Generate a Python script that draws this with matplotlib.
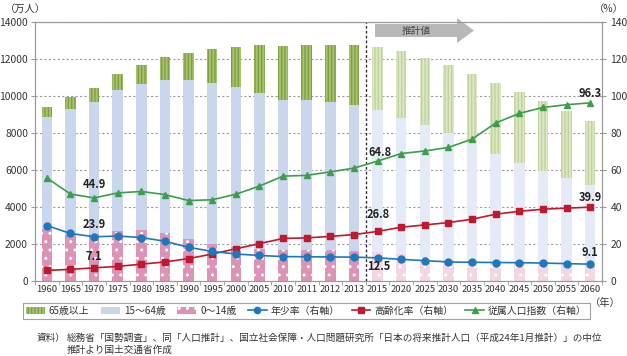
import numpy as np
import matplotlib.pyplot as plt
from matplotlib.patches import Polygon, Patch
from matplotlib.lines import Line2D

plt.rcParams["font.family"] = ["Noto Sans CJK JP", "DejaVu Sans"]
plt.rcParams["hatch.linewidth"] = 1.0

############################
# Data (万人, %)
############################

years = ["1960", "1965", "1970", "1975", "1980", "1985", "1990", "1995", "2000",
         "2005", "2010", "2011", "2012", "2013", "2015", "2020", "2025", "2030",
         "2035", "2040", "2045", "2050", "2055", "2060"]

pop_0_14 = [2807, 2553, 2515, 2722, 2751, 2603, 2249, 2001, 1847, 1752, 1680,
            1671, 1655, 1639, 1583, 1457, 1324, 1204, 1129, 1073, 1012, 939, 861, 791]
pop_15_64 = [6047, 6744, 7157, 7581, 7883, 8251, 8590, 8716, 8622, 8409, 8103,
             8134, 8018, 7901, 7682, 7341, 7085, 6773, 6343, 5787, 5353, 5001, 4706, 4418]
pop_65 = [535, 624, 739, 887, 1065, 1247, 1489, 1826, 2204, 2576, 2925,
          2975, 3079, 3190, 3395, 3612, 3657, 3685, 3741, 3868, 3856, 3768, 3626, 3464]

youth_rate = [30.0, 25.7, 23.9, 24.3, 23.5, 21.5, 18.2, 16.0, 14.6, 13.8, 13.2,
              13.1, 13.0, 12.9, 12.5, 11.7, 11.0, 10.3, 10.1, 10.0, 9.9, 9.7, 9.4, 9.1]
aging_rate = [5.7, 6.3, 7.1, 7.9, 9.1, 10.3, 12.1, 14.6, 17.4, 20.2, 23.0,
              23.3, 24.1, 25.1, 26.8, 29.1, 30.3, 31.6, 33.4, 36.1, 37.7, 38.8, 39.4, 39.9]
dependency = [55.7, 47.0, 44.9, 47.6, 48.4, 46.7, 43.5, 43.9, 46.9, 51.3, 56.7,
              57.1, 59.0, 61.0, 64.8, 68.9, 70.3, 72.2, 76.7, 85.4, 90.6, 93.8, 95.3, 96.3]

n_actual = 14  # 1960-2013 are actual, 2015- are projections

############################
# Colors
############################

GREEN_BAR = "#A6C46C"
GREEN_STRIPE = "#7E9E45"
GREEN_BAR_P = "#DCE7C4"
GREEN_STRIPE_P = "#BFD39A"
BLUE_BAR = "#C9D6EE"
BLUE_BAR_P = "#E4EAF6"
PINK_BAR = "#DC93B6"
PINK_BAR_P = "#F4D5E3"
BLUE_LINE = "#1E78BE"
RED_LINE = "#C0182C"
GREEN_LINE = "#3C9E4A"
GRID = "#9A9A9A"
TEXT = "#333333"

############################
# Figure
############################

fig = plt.figure(figsize=(6.27, 3.56), dpi=100)
ax = fig.add_axes([35 / 627, 1 - 281 / 356, 567 / 627, 259 / 356])
ax2 = ax.twinx()

x = np.arange(len(years))
w = 0.44
act = x < n_actual
b0 = np.array(pop_0_14)
b1 = np.array(pop_15_64)
b2 = np.array(pop_65)

for mask, c0, c1, c2, s2 in [(act, PINK_BAR, BLUE_BAR, GREEN_BAR, GREEN_STRIPE),
                             (~act, PINK_BAR_P, BLUE_BAR_P, GREEN_BAR_P, GREEN_STRIPE_P)]:
    ax.bar(x[mask], b0[mask], w, color=c0, edgecolor="white", linewidth=0, hatch="..")
    ax.bar(x[mask], b1[mask], w, bottom=b0[mask], color=c1, linewidth=0)
    ax.bar(x[mask], b2[mask], w, bottom=(b0 + b1)[mask], color=c2,
           edgecolor=s2, linewidth=0, hatch="|||||")

ax.set_ylim(0, 14000)
ax.set_xlim(-0.5, len(years) - 0.5)
ax.set_yticks(range(0, 14001, 2000))
ax.set_xticks(x)
ax.set_xticklabels(years)
ax.set_xticks(np.arange(-0.5, len(years), 1), minor=True)
ax.tick_params(axis="x", which="major", length=0, labelsize=6.8, colors=TEXT, pad=3)
ax.tick_params(axis="x", which="minor", length=3, color=GRID)
ax.tick_params(axis="y", length=3, labelsize=7.4, colors=TEXT, pad=2, color=GRID)
ax.yaxis.grid(True, color=GRID, linestyle=(0, (2, 2)), linewidth=0.8)
ax.set_axisbelow(True)

for sp in list(ax.spines.values()) + list(ax2.spines.values()):
    sp.set_color(GRID)
    sp.set_linewidth(0.8)

# lines on right axis
ax2.plot(x, dependency, color=GREEN_LINE, lw=1.2, marker="^", ms=5, zorder=3)
ax2.plot(x, aging_rate, color=RED_LINE, lw=1.2, marker="s", ms=4.2, zorder=3)
ax2.plot(x, youth_rate, color=BLUE_LINE, lw=1.2, marker="o", ms=5, zorder=3)
ax2.set_ylim(0, 140)
ax2.set_yticks(range(0, 141, 20))
ax2.tick_params(axis="y", length=3, labelsize=7.4, colors=TEXT, pad=3, color=GRID)

# projection divider
ax.axvline(n_actual - 0.5, color="#333333", lw=1.0, linestyle=(0, (2, 1.5)), zorder=4)

# value labels
def lab(series, i, dx, dy):
    ax2.annotate(f"{series[i]:.1f}", (x[i], series[i]), xytext=(dx, dy),
                 textcoords="offset points", ha="center", va="center",
                 fontsize=8, fontweight="bold", color="#222222", zorder=5)

lab(dependency, 2, 0, 9.5)
lab(youth_rate, 2, 0, 8.5)
lab(aging_rate, 2, 0, 8.5)
lab(dependency, 14, 1.5, 6)
lab(aging_rate, 14, 0.5, 12)
lab(youth_rate, 14, 0.5, -6.5)
lab(dependency, 23, 0, 6.5)
lab(aging_rate, 23, 0, 7)
lab(youth_rate, 23, 0, 8.5)

# 推計値 arrow
def ac(px, py):
    return ((px - 35) / 567, (281 - py) / 259)

arrow = Polygon([ac(375, 24), ac(457, 24), ac(457, 18), ac(474, 30.5),
                 ac(457, 43), ac(457, 37), ac(375, 37)],
                closed=True, transform=ax.transAxes, facecolor="#B8B8B8",
                edgecolor="none", clip_on=False, zorder=6)
ax.add_patch(arrow)
ax.text(*ac(416, 30.5), "推計値", transform=ax.transAxes, ha="center", va="center",
        fontsize=7, color="#444444", zorder=7)

# axis unit labels
fig.text(5 / 627, 1 - 9 / 356, "（万人）", fontsize=7.4, color=TEXT, va="center", ha="left")
fig.text(624 / 627, 1 - 9 / 356, "（%）", fontsize=7.4, color=TEXT, va="center", ha="right")
fig.text(590 / 627, 1 - 303 / 356, "（年）", fontsize=7.4, color=TEXT, va="center", ha="left")

# legend
handles = [
    Patch(facecolor=GREEN_BAR, edgecolor=GREEN_STRIPE, hatch="|||||", linewidth=0),
    Patch(facecolor=BLUE_BAR, linewidth=0),
    Patch(facecolor=PINK_BAR, edgecolor="white", hatch="..", linewidth=0),
    Line2D([], [], color=BLUE_LINE, marker="o", ms=4.5, lw=1.2),
    Line2D([], [], color=RED_LINE, marker="s", ms=4, lw=1.2),
    Line2D([], [], color=GREEN_LINE, marker="^", ms=4.5, lw=1.2),
]
labels = ["65歳以上", "15～64歳", "0～14歳", "年少率（右軸）", "高齢化率（右軸）", "従属人口指数（右軸）"]
leg = fig.legend(handles, labels, loc="upper left", bbox_to_anchor=(23 / 627, 1 - 303 / 356),
                 ncol=6, fontsize=7.1, frameon=True, fancybox=False, borderpad=0.3,
                 handlelength=1.9, handleheight=0.8, handletextpad=0.4, columnspacing=1.2,
                 borderaxespad=0)
leg.get_frame().set_edgecolor("#888888")
leg.get_frame().set_linewidth(0.8)
for t in leg.get_texts():
    t.set_color(TEXT)

# source note
fig.text(37 / 627, 1 - 338 / 356, "資料）", fontsize=6.9, color=TEXT, va="center")
fig.text(67 / 627, 1 - 338 / 356,
         "総務省「国勢調査」、同「人口推計」、国立社会保障・人口問題研究所「日本の将来推計人口（平成24年1月推計）」の中位",
         fontsize=6.9, color=TEXT, va="center")
fig.text(67 / 627, 1 - 350.5 / 356, "推計より国土交通省作成", fontsize=6.9, color=TEXT, va="center")

fig.savefig("out.png", dpi=100)
